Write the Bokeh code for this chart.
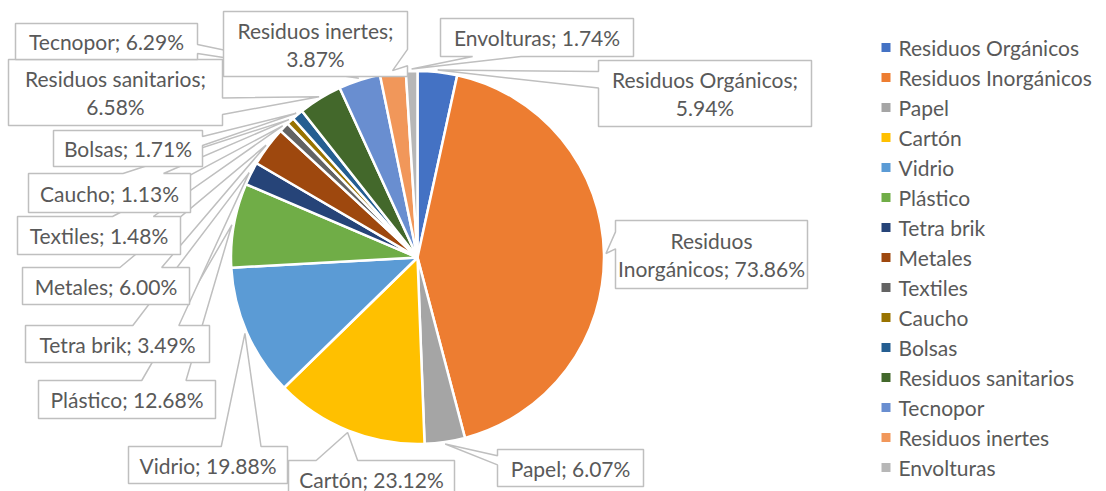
import math
from bokeh.plotting import figure
from bokeh.models import Range1d, ColumnDataSource
from bokeh.core.properties import value
from bokeh.embed import file_html
from bokeh.resources import INLINE

# ---------------- data ----------------
categories = ["Residuos Orgánicos", "Residuos Inorgánicos", "Papel", "Cartón", "Vidrio",
              "Plástico", "Tetra brik", "Metales", "Textiles", "Caucho", "Bolsas",
              "Residuos sanitarios", "Tecnopor", "Residuos inertes", "Envolturas"]
percentages = [5.94, 73.86, 6.07, 23.12, 19.88, 12.68, 3.49, 6.00, 1.48, 1.13, 1.71,
               6.58, 6.29, 3.87, 1.74]
colors = ["#4472C4", "#ED7D31", "#A5A5A5", "#FFC000", "#5B9BD5", "#70AD47", "#264478",
          "#9E480E", "#636363", "#997300", "#255E91", "#43682B", "#698ED0", "#F1975A",
          "#B7B7B7"]

# ---------------- layout (page pixel coordinates) ----------------
W, H = 1106, 491
PIE_CX, PIE_CY, PIE_R = 417, 257, 186.5
# label boxes: left, top, right, bottom ; wrap mode
label_boxes = [
    (598, 60, 811, 126), (615, 220, 807, 288), (497, 449, 643, 486), (288, 460, 454, 497),
    (128, 446, 287, 483), (38, 380, 215, 418), (25, 325, 209, 362), (22, 267, 189, 304),
    (17, 216, 180, 254), (28, 173, 190, 212), (53, 130, 202, 166), (8, 59, 222, 125),
    (15, 23, 197, 59), (223, 11, 407, 76), (440, 18, 633, 56)]
label_wrap = ["semi", "word", None, None, None, None, None, None, None, None, None,
              "semi", None, "semi", None]
LINE_GAP = 28
FONT = "Lato"
FSIZE = "21px"
TEXT_COLOR = "#595959"
BOX_COLOR = "#BFBFBF"
LEG_X_MARK, LEG_X_TEXT, LEG_Y0, LEG_STEP = 885.5, 898, 47, 30


def X(xi):
    return xi


def Y(yi):
    return H - yi


p = figure(width=W, height=H, x_range=Range1d(0, W), y_range=Range1d(0, H),
           output_backend="svg", toolbar_location=None, min_border=0,
           background_fill_color="white", border_fill_color="white")
p.axis.visible = False
p.grid.visible = False
p.outline_line_color = None

# ---------------- pie ----------------
total = sum(percentages)
starts, ends, mids = [], [], []
cum = 0.0
for v in percentages:
    a0 = 2 * math.pi * cum / total
    cum += v
    a1 = 2 * math.pi * cum / total
    starts.append(math.pi / 2 - a0)
    ends.append(math.pi / 2 - a1)
    mids.append((a0 + a1) / 2)

src = ColumnDataSource(dict(start=starts, end=ends, color=colors))
p.wedge(x=X(PIE_CX), y=Y(PIE_CY), radius=PIE_R, start_angle="start", end_angle="end",
        direction="clock", fill_color="color", line_color="white", line_width=2.5,
        source=src)


# ---------------- callout labels ----------------
def callout(l, t, r, b, tx, ty):
    w, h = r - l, b - t
    hc, vc = (l + r) / 2, (t + b) / 2
    dxp, dyp = tx - hc, ty - vc
    if abs(dyp) * w > abs(dxp) * h:
        g1, g2 = (7, 10) if dxp > 0 else (2, 5)
        x1, x2 = l + w * g1 / 12, l + w * g2 / 12
        if dyp < 0:
            pts = [(l, t), (x1, t), (tx, ty), (x2, t), (r, t), (r, b), (l, b)]
        else:
            pts = [(l, t), (r, t), (r, b), (x2, b), (tx, ty), (x1, b), (l, b)]
    else:
        g1, g2 = (7, 10) if dyp > 0 else (2, 5)
        y1, y2 = t + h * g1 / 12, t + h * g2 / 12
        if dxp < 0:
            pts = [(l, t), (r, t), (r, b), (l, b), (l, y2), (tx, ty), (l, y1)]
        else:
            pts = [(l, t), (r, t), (r, y1), (tx, ty), (r, y2), (r, b), (l, b)]
    return [X(q[0]) for q in pts], [Y(q[1]) for q in pts]


xs, ys = [], []
tx_all, ty_all, tt_all = [], [], []
for i, (cat, val) in enumerate(zip(categories, percentages)):
    l, t, r, b = label_boxes[i]
    tip_x = PIE_CX + (PIE_R + 2) * math.sin(mids[i])
    tip_y = PIE_CY - (PIE_R + 2) * math.cos(mids[i])
    px, py = callout(l, t, r, b, tip_x, tip_y)
    xs.append(px)
    ys.append(py)
    pct = f"{val:.2f}%"
    if label_wrap[i] == "semi":
        lines = [f"{cat};", pct]
    elif label_wrap[i] == "word":
        first, rest = cat.split(" ", 1)
        lines = [first, f"{rest}; {pct}"]
    else:
        lines = [f"{cat}; {pct}"]
    cy = (t + b) / 2
    n = len(lines)
    for k, ln in enumerate(lines):
        tx_all.append(X((l + r) / 2))
        ty_all.append(Y(cy + (k - (n - 1) / 2) * LINE_GAP))
        tt_all.append(ln)

# draw each callout in order so later ones overlap earlier ones
for i in range(len(xs)):
    p.patch(x=xs[i], y=ys[i], fill_color="white", line_color=BOX_COLOR, line_width=1.5)

p.text(x=tx_all, y=ty_all, text=tt_all, text_font=value(FONT), text_font_size=FSIZE,
       text_color=TEXT_COLOR, text_align="center", text_baseline="middle")

# ---------------- legend ----------------
leg_y = [Y(LEG_Y0 + LEG_STEP * i) for i in range(len(categories))]
p.scatter(x=[X(LEG_X_MARK)] * len(categories), y=leg_y, marker="square", size=9,
          fill_color=colors, line_color=None)
p.text(x=[X(LEG_X_TEXT)] * len(categories), y=leg_y, text=categories,
       text_font=value(FONT), text_font_size=FSIZE, text_color=TEXT_COLOR,
       text_align="left", text_baseline="middle")

open("out.html", "w").write(file_html(p, INLINE))
